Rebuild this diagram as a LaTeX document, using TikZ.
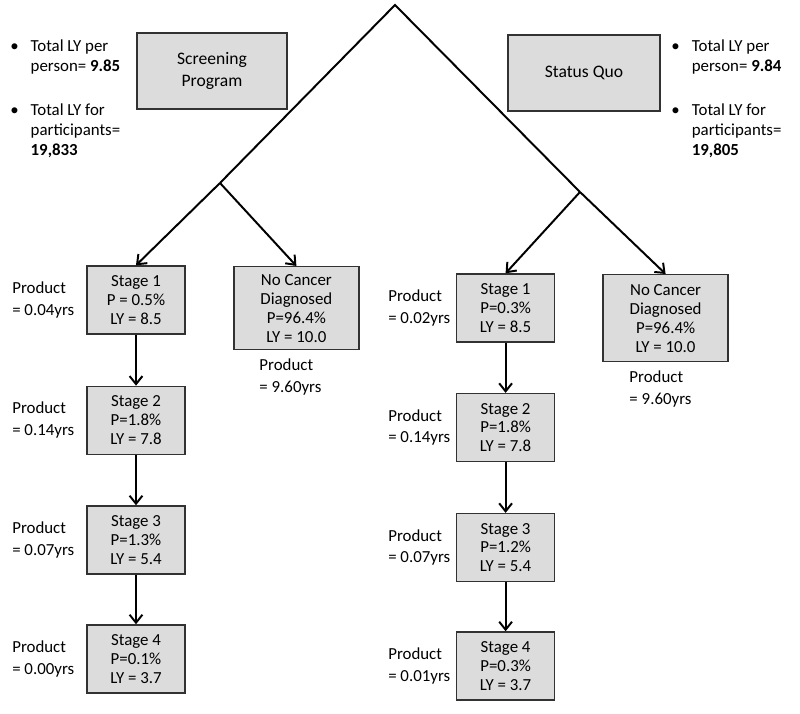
\documentclass[tikz,border=0pt]{standalone}
\usepackage{fontspec}
\setmainfont{Carlito}
\usepackage{xcolor}
\definecolor{boxgray}{RGB}{220,220,220}
\definecolor{boxline}{RGB}{50,50,50}
\usetikzlibrary{arrows.meta, positioning}

\tikzset{
  stagebox/.style={draw=boxline, fill=boxgray, line width=1pt, minimum width=2.45cm, minimum height=1.7cm, align=center, inner sep=1pt, font=\fontsize{12}{13.5}\selectfont},
  nocbox/.style={stagebox, minimum width=3.125cm},
  armbox/.style={stagebox, minimum width=3.75cm, minimum height=1.9cm, font=\fontsize{12.5}{15}\selectfont},
  prodlabel/.style={align=left, inner sep=0pt, font=\fontsize{12}{15.5}\selectfont},
  bulletlist/.style={align=left, inner sep=0pt, font=\fontsize{12}{14.2}\selectfont},
  branch/.style={line width=1.4pt, line join=miter},
  arr/.style={line width=1.4pt, -{Straight Barb[length=2mm, width=3.2mm]}}
}

\begin{document}
\begin{tikzpicture}
  \useasboundingbox (0,0) rectangle (20,17.85);

  % Tree junctions
  \coordinate (apex) at (9.875,17.725);
  \coordinate (lsplit) at (5.5,13.275);
  \coordinate (rsplit) at (14.5,13.05);

  % --- Arm boxes and totals ---
  \node[armbox] (screen) at (5.3,16.075) {Screening\\Program};
  \node[armbox, minimum width=3.8cm] (quo) at (14.6,16.025) {Status Quo};

  \node[bulletlist, anchor=west] (lperson) at (0.25,16.4) {\begin{tabular}{@{}l@{\hspace{0.3cm}}l@{}}\textbullet & Total LY per\\ & person= \textbf{9.85}\end{tabular}};
  \node[bulletlist, anchor=west] (lpart) at (0.25,14.56) {\begin{tabular}{@{}l@{\hspace{0.3cm}}l@{}}\textbullet & Total LY for\\ & participants=\\ & \textbf{19,833}\end{tabular}};
  \node[bulletlist, anchor=west] (rperson) at (16.78,16.4) {\begin{tabular}{@{}l@{\hspace{0.3cm}}l@{}}\textbullet & Total LY per\\ & person= \textbf{9.84}\end{tabular}};
  \node[bulletlist, anchor=west] (rpart) at (16.78,14.56) {\begin{tabular}{@{}l@{\hspace{0.3cm}}l@{}}\textbullet & Total LY for\\ & participants=\\ & \textbf{19,805}\end{tabular}};

  % --- Screening program branch (left) ---
  \node[stagebox] (ls1) at (3.4,10.35) {Stage 1\\P = 0.5\%\\LY = 8.5};
  \node[stagebox] (ls2) at (3.4,7.34) {Stage 2\\P=1.8\%\\LY = 7.8};
  \node[stagebox] (ls3) at (3.4,4.35) {Stage 3\\P=1.3\%\\LY = 5.4};
  \node[stagebox] (ls4) at (3.4,1.375) {Stage 4\\P=0.1\%\\LY = 3.7};
  \node[nocbox, anchor=north, minimum height=2.075cm] (lnc) at (7.41,11.2) {No Cancer\\Diagnosed\\P=96.4\%\\LY = 10.0};

  \node[prodlabel, anchor=west] (lp1) at (0.3,0 |- ls1) {Product\\= 0.04yrs};
  \node[prodlabel, anchor=west] (lp2) at (0.3,0 |- ls2) {Product\\= 0.14yrs};
  \node[prodlabel, anchor=west] (lp3) at (0.3,0 |- ls3) {Product\\= 0.07yrs};
  \node[prodlabel, anchor=west] (lp4) at (0.3,0 |- ls4) {Product\\= 0.00yrs};
  \node[prodlabel, anchor=north west, xshift=0.65cm, yshift=-0.2cm] (lpnc) at (lnc.south west) {Product\\= 9.60yrs};

  % --- Status quo branch (right) ---
  \node[stagebox] (rs1) at (12.64,10.15) {Stage 1\\P=0.3\%\\LY = 8.5};
  \node[stagebox] (rs2) at (12.64,7.16) {Stage 2\\P=1.8\%\\LY = 7.8};
  \node[stagebox] (rs3) at (12.64,4.16) {Stage 3\\P=1.2\%\\LY = 5.4};
  \node[stagebox] (rs4) at (12.64,1.2) {Stage 4\\P=0.3\%\\LY = 3.7};
  \node[nocbox, anchor=north, minimum height=2.175cm] (rnc) at (16.64,11.0) {No Cancer\\Diagnosed\\P=96.4\%\\LY = 10.0};

  \node[prodlabel, anchor=west] (rp1) at (9.7,0 |- rs1) {Product\\= 0.02yrs};
  \node[prodlabel, anchor=west] (rp2) at (9.7,0 |- rs2) {Product\\= 0.14yrs};
  \node[prodlabel, anchor=west] (rp3) at (9.7,0 |- rs3) {Product\\= 0.07yrs};
  \node[prodlabel, anchor=west] (rp4) at (9.7,0 |- rs4) {Product\\= 0.01yrs};
  \node[prodlabel, anchor=north west, xshift=0.67cm, yshift=-0.2cm] (rpnc) at (rnc.south west) {Product\\= 9.60yrs};

  % Connectors
  \draw[branch] (lsplit) -- (apex) -- (rsplit);
  \draw[arr] (lsplit) -- (ls1.north);
  \draw[arr] (lsplit) -- (lnc.north);
  \draw[arr] (rsplit) -- (rs1.north);
  \draw[arr] (rsplit) -- (rnc.north);
  \foreach \a/\b in {ls1/ls2, ls2/ls3, ls3/ls4, rs1/rs2, rs2/rs3, rs3/rs4}
    \draw[arr] (\a.south) -- (\b.north);
\end{tikzpicture}
\end{document}
